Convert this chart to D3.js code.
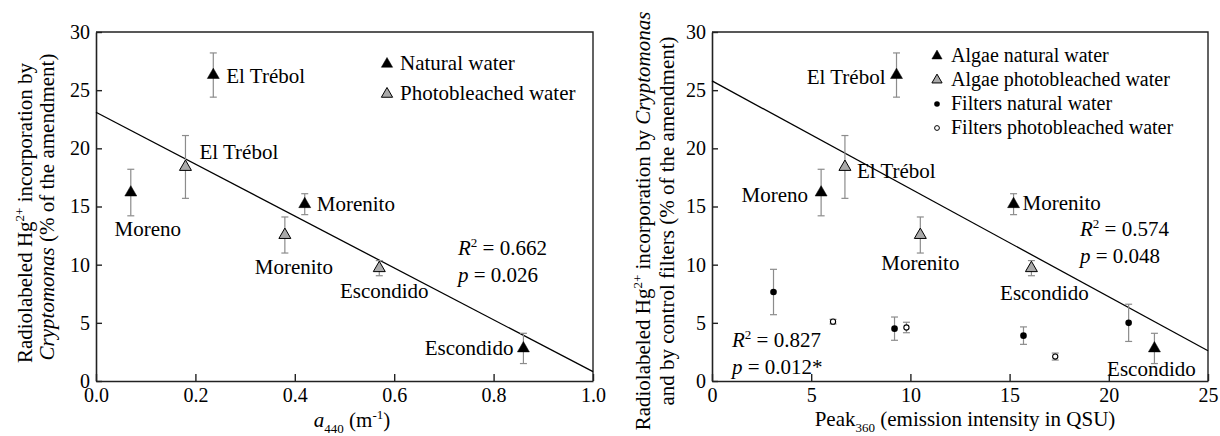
<!DOCTYPE html>
<html>
<head>
<meta charset="utf-8">
<script src="https://cdn.jsdelivr.net/npm/d3@7"></script>
<style>
body { margin: 0; background: #fff; }
svg { font-family: "Liberation Serif", "Times New Roman", serif; }
</style>
</head>
<body>
<svg id="chart" width="1220" height="436"></svg>
<script>
// algae (Cryptomonas) in natural water
var natSites = ["Moreno", "El Trébol", "Morenito", "Escondido"];
var natA440 = [0.07, 0.236, 0.42, 0.86];
var natPeak = [5.5, 9.3, 15.2, 22.3];
var natHg = [16.2, 26.3, 15.2, 2.8];
var natErr = [2.0, 1.9, 0.9, 1.3];

// algae in photobleached water
var pbSites = ["El Trébol", "Morenito", "Escondido"];
var pbA440 = [0.18, 0.38, 0.57];
var pbPeak = [6.7, 10.5, 16.1];
var pbHg = [18.4, 12.55, 9.7];
var pbErr = [2.7, 1.55, 0.65];

// control filters
var filtNatPeak = [3.1, 9.2, 15.7, 21.0];
var filtNatHg = [7.65, 4.5, 3.9, 5.0];
var filtNatErr = [1.95, 1.0, 0.75, 1.6];
var filtPbPeak = [6.1, 9.8, 17.3];
var filtPbHg = [5.1, 4.6, 2.1];
var filtPbErr = [0.2, 0.45, 0.3];

// regression lines (end points)
var fitA440X = [0, 1.0], fitA440Y = [23.1, 0.8];
var fitPeakX = [0, 25], fitPeakY = [25.8, 2.6];

var a440Ticks = [0, 0.2, 0.4, 0.6, 0.8, 1.0];
var peakTicks = [0, 5, 10, 15, 20, 25];
var hgTicks = [0, 5, 10, 15, 20, 25, 30];

var statsA440 = ["0.662", "0.026"];
var statsPeakAlgae = ["0.574", "0.048"];
var statsPeakFilters = ["0.827", "0.012*"];

var svg = d3.select("#chart");
var top_ = 32, bottom_ = 381;
var y = d3.scaleLinear().domain([0, 30]).range([bottom_, top_]);
var xL = d3.scaleLinear().domain([0, 1]).range([96, 593]);
var xR = d3.scaleLinear().domain([0, 25]).range([712, 1208]);

var axisCol = "#222", errCol = "#8c8c8c";

// text with italic / superscript / subscript pieces
function richText(sel, parts, size) {
	parts.forEach(function(p) {
		var ts = sel.append("tspan").text(p.t);
		if (p.s == "i") ts.attr("font-style", "italic");
		if (p.s == "sup") {
			ts.attr("font-size", size * 0.62).attr("dy", -size * 0.4);
			sel.append("tspan").attr("dy", size * 0.4).text("\u200b");
		}
		if (p.s == "sub") {
			ts.attr("font-size", size * 0.62).attr("dy", size * 0.3);
			sel.append("tspan").attr("dy", -size * 0.3).text("\u200b");
		}
	});
	return sel;
}

function triangle(g, cx, cy, size, fill) {
	g.append("path")
		.attr("d", d3.symbol().type(d3.symbolTriangle).size(size)())
		.attr("transform", "translate(" + cx + "," + cy + ")")
		.attr("fill", fill)
		.attr("stroke", "#000")
		.attr("stroke-width", fill == "#000" ? 0.5 : 1);
}

function errBar(g, px, val, err) {
	var y0 = y(val - err), y1 = y(val + err);
	g.append("line").attr("x1", px).attr("x2", px).attr("y1", y0).attr("y2", y1);
	g.append("line").attr("x1", px - 3.5).attr("x2", px + 3.5).attr("y1", y0).attr("y2", y0);
	g.append("line").attr("x1", px - 3.5).attr("x2", px + 3.5).attr("y1", y1).attr("y2", y1);
}

function drawFrame(x, ticks, fmt) {
	var g = svg.append("g");
	g.append("g")
		.attr("transform", "translate(0," + bottom_ + ")")
		.call(d3.axisBottom(x).tickValues(ticks).tickFormat(fmt).tickSizeInner(-7).tickSizeOuter(0).tickPadding(7));
	g.append("g")
		.attr("transform", "translate(" + x.range()[0] + ",0)")
		.call(d3.axisLeft(y).tickValues(hgTicks).tickSizeInner(-6).tickSizeOuter(0).tickPadding(6));
	g.selectAll(".domain").attr("stroke", axisCol).attr("stroke-width", 1.6);
	g.selectAll(".tick line").attr("stroke", axisCol).attr("stroke-width", 1.4);
	g.selectAll(".tick text").attr("font-size", 20).attr("fill", "#000")
		.attr("font-family", "Liberation Serif, serif");
	// top and right sides of the box
	g.append("path")
		.attr("d", "M" + x.range()[0] + "," + top_ + "H" + x.range()[1] + "V" + bottom_)
		.attr("fill", "none").attr("stroke", axisCol).attr("stroke-width", 1.4);
}

function fitLine(x, xs, ys) {
	svg.append("line")
		.attr("x1", x(xs[0])).attr("y1", y(ys[0]))
		.attr("x2", x(xs[1])).attr("y2", y(ys[1]))
		.attr("stroke", "#000").attr("stroke-width", 1.3);
}

function label(x, xv, yv, txt, dx, dy, anchor) {
	svg.append("text")
		.attr("x", x(xv) + dx).attr("y", y(yv) + dy)
		.attr("text-anchor", anchor)
		.attr("font-size", 21)
		.text(txt);
}

function stats(px, py, vals) {
	richText(svg.append("text").attr("x", px).attr("y", py).attr("font-size", 21),
		[{t: "R", s: "i"}, {t: "2", s: "sup"}, {t: " = " + vals[0]}], 21);
	richText(svg.append("text").attr("x", px).attr("y", py + 27).attr("font-size", 21),
		[{t: "p", s: "i"}, {t: " = " + vals[1]}], 21);
}

// ---------- left panel ----------
drawFrame(xL, a440Ticks, d3.format(".1f"));
fitLine(xL, fitA440X, fitA440Y);

var gE = svg.append("g").attr("stroke", errCol).attr("stroke-width", 1.2);
natHg.forEach(function(v, i) { errBar(gE, xL(natA440[i]), v, natErr[i]); });
pbHg.forEach(function(v, i) { errBar(gE, xL(pbA440[i]), v, pbErr[i]); });
var gM = svg.append("g");
natHg.forEach(function(v, i) { triangle(gM, xL(natA440[i]), y(v), 62, "#000"); });
pbHg.forEach(function(v, i) { triangle(gM, xL(pbA440[i]), y(v), 62, "#aaa"); });

// site labels: [dx, dy, anchor] relative to the point
var leftNatPos = [[17, 43, "middle"], [13, 8, "start"], [12, 7, "start"], [-10, 7, "end"]];
var leftPbPos = [[14, -8, "start"], [9, 39, "middle"], [5, 30, "middle"]];
natSites.forEach(function(s, i) { label(xL, natA440[i], natHg[i], s, leftNatPos[i][0], leftNatPos[i][1], leftNatPos[i][2]); });
pbSites.forEach(function(s, i) { label(xL, pbA440[i], pbHg[i], s, leftPbPos[i][0], leftPbPos[i][1], leftPbPos[i][2]); });

stats(458, 255, statsA440);

// legend
triangle(svg, 387, 64, 55, "#000");
triangle(svg, 387, 94, 55, "#aaa");
svg.append("text").attr("x", 400).attr("y", 70).attr("font-size", 21).text("Natural water");
svg.append("text").attr("x", 400).attr("y", 100).attr("font-size", 21).text("Photobleached water");

// axis titles
richText(svg.append("text").attr("x", 352).attr("y", 427).attr("text-anchor", "middle").attr("font-size", 21),
	[{t: "a", s: "i"}, {t: "440", s: "sub"}, {t: " (m"}, {t: "-1", s: "sup"}, {t: ")"}], 21);
richText(svg.append("text").attr("transform", "translate(32,213) rotate(-90)").attr("text-anchor", "middle").attr("font-size", 21),
	[{t: "Radiolabeled Hg"}, {t: "2+", s: "sup"}, {t: " incorporation by"}], 21);
richText(svg.append("text").attr("transform", "translate(54,207) rotate(-90)").attr("text-anchor", "middle").attr("font-size", 21),
	[{t: "Cryptomonas", s: "i"}, {t: " (% of the amendment)"}], 21);

// ---------- right panel ----------
drawFrame(xR, peakTicks, d3.format("d"));
fitLine(xR, fitPeakX, fitPeakY);

var gE2 = svg.append("g").attr("stroke", errCol).attr("stroke-width", 1.2);
natHg.forEach(function(v, i) { errBar(gE2, xR(natPeak[i]), v, natErr[i]); });
pbHg.forEach(function(v, i) { errBar(gE2, xR(pbPeak[i]), v, pbErr[i]); });
filtNatHg.forEach(function(v, i) { errBar(gE2, xR(filtNatPeak[i]), v, filtNatErr[i]); });
filtPbHg.forEach(function(v, i) { errBar(gE2, xR(filtPbPeak[i]), v, filtPbErr[i]); });

var gM2 = svg.append("g");
natHg.forEach(function(v, i) { triangle(gM2, xR(natPeak[i]), y(v), 62, "#000"); });
pbHg.forEach(function(v, i) { triangle(gM2, xR(pbPeak[i]), y(v), 62, "#aaa"); });
gM2.selectAll(".fn").data(filtNatHg).enter().append("circle")
	.attr("cx", function(d, i) { return xR(filtNatPeak[i]); })
	.attr("cy", function(d) { return y(d); })
	.attr("r", 3.3).attr("fill", "#000");
gM2.selectAll(".fp").data(filtPbHg).enter().append("circle")
	.attr("cx", function(d, i) { return xR(filtPbPeak[i]); })
	.attr("cy", function(d) { return y(d); })
	.attr("r", 2.6).attr("fill", "#fff").attr("stroke", "#000").attr("stroke-width", 1.1);

var rightNatPos = [[-13, 9, "end"], [-11, 9, "end"], [9, 6, "start"], [-3, 28, "middle"]];
var rightPbPos = [[12, 11, "start"], [0, 35, "middle"], [13, 32, "middle"]];
natSites.forEach(function(s, i) { label(xR, natPeak[i], natHg[i], s, rightNatPos[i][0], rightNatPos[i][1], rightNatPos[i][2]); });
pbSites.forEach(function(s, i) { label(xR, pbPeak[i], pbHg[i], s, rightPbPos[i][0], rightPbPos[i][1], rightPbPos[i][2]); });

stats(1080, 236, statsPeakAlgae);
stats(732, 347, statsPeakFilters);

// legend
var legItems = ["Algae natural water", "Algae photobleached water", "Filters natural water", "Filters photobleached water"];
var legY = [56, 80, 104, 128];
triangle(svg, 937, legY[0], 45, "#000");
triangle(svg, 937, legY[1], 45, "#aaa");
svg.append("circle").attr("cx", 937).attr("cy", legY[2]).attr("r", 2.8).attr("fill", "#000");
svg.append("circle").attr("cx", 937).attr("cy", legY[3]).attr("r", 2.4).attr("fill", "#fff").attr("stroke", "#000");
legItems.forEach(function(t, i) {
	svg.append("text").attr("x", 951).attr("y", legY[i] + 6).attr("font-size", 20).text(t);
});

richText(svg.append("text").attr("x", 965).attr("y", 426).attr("text-anchor", "middle").attr("font-size", 21),
	[{t: "Peak"}, {t: "360", s: "sub"}, {t: " (emission intensity in QSU)"}], 21);
richText(svg.append("text").attr("transform", "translate(650,221) rotate(-90)").attr("text-anchor", "middle").attr("font-size", 21),
	[{t: "Radiolabeled Hg"}, {t: "2+", s: "sup"}, {t: " incorporation by "}, {t: "Cryptomonas", s: "i"}], 21);
richText(svg.append("text").attr("transform", "translate(674,221) rotate(-90)").attr("text-anchor", "middle").attr("font-size", 21),
	[{t: "and by control filters (% of the amendment)"}], 21);
</script>
</body>
</html>
